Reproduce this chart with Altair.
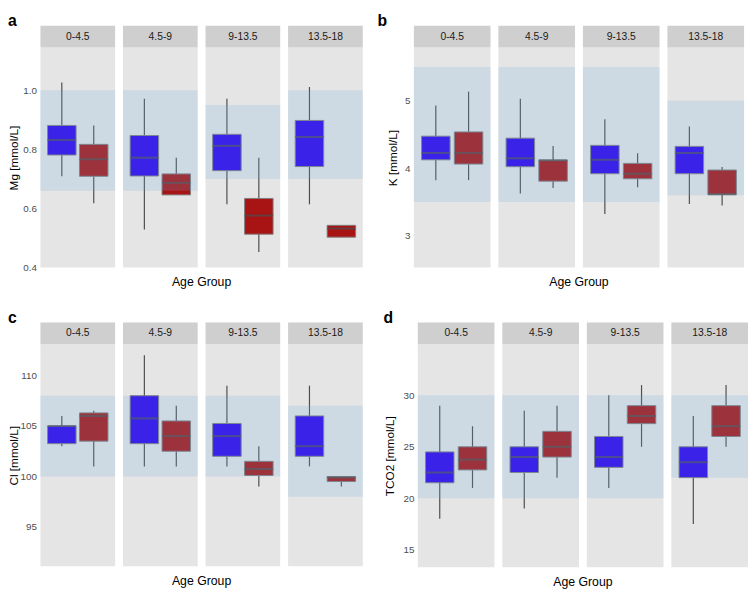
import altair as alt
import pandas as pd

ages = ["0-4.5", "4.5-9", "9-13.5", "13.5-18"]
groups = ["Group 1", "Group 2"]

# Mg [mmol/L]
mg_blue = {"lo": [0.709, 0.529, 0.614, 0.614], "q1": [0.781, 0.710, 0.728, 0.742],
           "med": [0.832, 0.772, 0.812, 0.842], "q3": [0.881, 0.847, 0.851, 0.898],
           "hi": [1.026, 0.971, 0.971, 1.011]}
mg_red = {"lo": [0.618, 0.646, 0.453, 0.503], "q1": [0.709, 0.646, 0.513, 0.503],
          "med": [0.767, 0.687, 0.576, 0.532], "q3": [0.817, 0.717, 0.634, 0.543],
          "hi": [0.881, 0.772, 0.772, 0.543]}
mg_band_lo = [0.66, 0.66, 0.70, 0.70]
mg_band_hi = [1.00, 1.00, 0.95, 1.00]

# K [mmol/L]
k_blue = {"lo": [3.825, 3.626, 3.325, 3.47], "q1": [4.126, 4.024, 3.92, 3.92],
          "med": [4.228, 4.15, 4.126, 4.228], "q3": [4.476, 4.447, 4.34, 4.325],
          "hi": [4.93, 5.03, 4.728, 4.62]}
k_red = {"lo": [3.825, 3.71, 3.72, 3.45], "q1": [4.063, 3.81, 3.845, 3.615],
         "med": [4.228, 4.12, 3.92, 3.615], "q3": [4.539, 4.12, 4.073, 3.975],
         "hi": [5.136, 4.33, 4.223, 4.02]}
k_band_lo = [3.5, 3.5, 3.5, 3.6]
k_band_hi = [5.5, 5.5, 5.5, 5.0]

# Cl [mmol/L]
cl_blue = {"lo": [103.0, 101.0, 101.0, 101.0], "q1": [103.25, 103.25, 102.0, 102.0],
           "med": [105.0, 105.75, 104.0, 103.0], "q3": [105.0, 108.0, 105.25, 106.0],
           "hi": [106.0, 112.0, 109.0, 109.0]}
cl_red = {"lo": [101.0, 101.0, 99.0, 99.0], "q1": [103.5, 102.5, 100.1, 99.5],
          "med": [106.0, 104.0, 100.75, 99.9], "q3": [106.3, 105.5, 101.5, 100.0],
          "hi": [106.5, 107.0, 103.0, 100.0]}
cl_band_lo = [100, 100, 100, 98]
cl_band_hi = [108, 108, 108, 107]

# TCO2 [mmol/L]
co2_blue = {"lo": [18.0, 19.0, 21.0, 17.5], "q1": [21.5, 22.5, 23.0, 22.0],
            "med": [22.5, 24.0, 24.0, 23.5], "q3": [24.5, 25.0, 26.0, 25.0],
            "hi": [29.0, 28.5, 30.0, 28.0]}
co2_red = {"lo": [21.0, 22.0, 25.0, 25.0], "q1": [22.75, 24.0, 27.25, 26.0],
           "med": [23.75, 25.0, 28.0, 27.0], "q3": [25.0, 26.5, 29.0, 29.0],
           "hi": [27.0, 29.0, 31.0, 31.0]}
co2_band_lo = [20, 20, 20, 22]
co2_band_hi = [30, 30, 30, 30]

BLUE = "#2D00EB"
RED = "#A81414"
BAND = "#6DA9DB"
FONT = "Liberation Sans"


def panel(letter, ytitle, domain, ticks, fmt, blue, red, blo, bhi,
          W, H, spacing, title_x, title_dx):
    rows = []
    for g, st in zip(groups, [blue, red]):
        for i, a in enumerate(ages):
            rows.append(dict(age=a, grp=g, lo=st["lo"][i], q1=st["q1"][i],
                             med=st["med"][i], q3=st["q3"][i], hi=st["hi"][i],
                             blo=blo[i], bhi=bhi[i]))
    df = pd.DataFrame(rows)
    xenc = alt.X("grp:N", scale=alt.Scale(domain=groups, paddingInner=0, paddingOuter=0.17),
                 axis=None)
    ysc = alt.Scale(domain=domain, nice=False, zero=False)
    yax = alt.Axis(values=ticks, format=fmt, title=ytitle, grid=False, ticks=False,
                   domain=False, labelPadding=4, labelFontSize=10, labelColor="#4D4D4D",
                   titleFontSize=12, titleFontWeight="normal", titleColor="black",
                   titleX=title_x)
    base = alt.Chart(df)
    first = alt.datum.grp == groups[0]
    whisk = base.mark_rule(color="#4D4D4D", strokeWidth=1.2).encode(
        x=xenc, y=alt.Y("lo:Q", scale=ysc, axis=yax), y2="hi:Q")
    box = base.mark_bar(size=29, stroke="#7F7F7F", strokeWidth=1).encode(
        x=xenc, y=alt.Y("q1:Q", scale=ysc, axis=yax), y2="q3:Q",
        color=alt.Color("grp:N", scale=alt.Scale(domain=groups, range=[BLUE, RED]),
                        legend=None))
    med = base.mark_tick(size=29, thickness=2, color="#4D4D4D").encode(
        x=xenc, y=alt.Y("med:Q", scale=ysc, axis=yax))
    band = base.transform_filter(first).mark_rect(color=BAND, opacity=0.2).encode(
        x=alt.value(0), x2=alt.value(W), y=alt.Y("blo:Q", scale=ysc, axis=yax), y2="bhi:Q")
    strip = base.transform_filter(first).mark_rect(color="#CFCFCF").encode(
        x=alt.value(0), x2=alt.value(W), y=alt.value(-22), y2=alt.value(0))
    stext = base.transform_filter(first).mark_text(fontSize=10.5, color="#1A1A1A",
                                                   baseline="middle").encode(
        x=alt.value(W / 2), y=alt.value(-11), text="age:N")
    layer = alt.layer(whisk, box, med, band, strip, stext).properties(width=W, height=H)
    return layer.facet(
        column=alt.Column("age:N", sort=ages,
                          header=alt.Header(labels=False, title="Age Group",
                                            titleOrient="bottom", titleFontSize=12.5,
                                            titleFontWeight="normal", titleColor="black",
                                            titlePadding=-1)),
        spacing=spacing,
    ).properties(title=alt.Title(letter, anchor="start", fontSize=16, fontWeight="bold",
                                 color="black", offset=-3, dx=title_dx))


a = panel("a", "Mg [mmol/L]", [0.4, 1.145], [0.4, 0.6, 0.8, 1.0], ".1f",
          mg_blue, mg_red, mg_band_lo, mg_band_hi, 76, 224, 8, -20, 0)
b = panel("b", "K [mmol/L]", [2.53, 5.79], [3, 4, 5], "d",
          k_blue, k_red, k_band_lo, k_band_hi, 78, 224, 8, -15, -9)
c = panel("c", "Cl [mmol/L]", [91.1, 113.1], [95, 100, 105, 110], "d",
          cl_blue, cl_red, cl_band_lo, cl_band_hi, 76, 226, 8, -20, 0)
d = panel("d", "TCO2 [mmol/L]", [13.28, 34.97], [15, 20, 25, 30], "d",
          co2_blue, co2_red, co2_band_lo, co2_band_hi, 78, 227, 8, -22, 0)

chart = alt.vconcat(
    alt.hconcat(a, b, spacing=15),
    alt.hconcat(c, d, spacing=21),
    spacing=21,
    padding=0,
).configure(font=FONT).configure_view(fill="#E5E5E5", stroke=None)

chart.save("out.html", embed_options={"renderer": "svg", "actions": False})
